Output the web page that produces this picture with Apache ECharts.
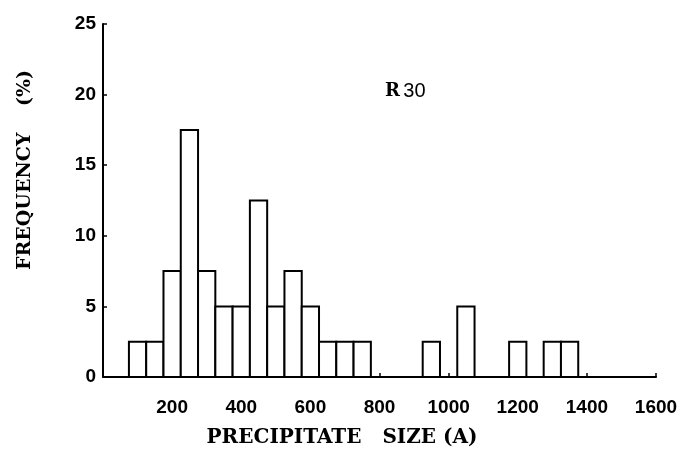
<!DOCTYPE html>
<html>
<head>
<meta charset="utf-8">
<script src="https://cdn.jsdelivr.net/npm/echarts@6/dist/echarts.min.js"></script>
<style>
  html, body { margin: 0; background: #fff; }
  #chart { width: 693px; height: 454px; }
</style>
</head>
<body>
<div id="chart"></div>
<script>
// histogram bins: centre of each 50 A wide bin, and its frequency (%)
var binCenters = [100, 150, 200, 250, 300, 350, 400, 450, 500, 550, 600, 650, 700, 750, 950, 1050, 1200, 1300, 1350];
var frequencies = [2.5, 2.5, 7.5, 17.5, 7.5, 5, 5, 12.5, 5, 7.5, 5, 2.5, 2.5, 2.5, 2.5, 5, 2.5, 2.5, 2.5];
var binWidth = 50;

var xRange = [0, 1600];
var xStep = 200;
var yRange = [0, 25];
var yStep = 5;

var chart = echarts.init(document.getElementById('chart'));

var data = binCenters.map(function (c, i) { return [c, frequencies[i]]; });

function renderBar(params, api) {
  var c = api.value(0);
  var h = api.value(1);
  var topLeft = api.coord([c - binWidth / 2, h]);
  var bottomRight = api.coord([c + binWidth / 2, 0]);
  return {
    type: 'rect',
    shape: {
      x: topLeft[0],
      y: topLeft[1],
      width: bottomRight[0] - topLeft[0],
      height: bottomRight[1] - topLeft[1]
    },
    style: { fill: '#fff', stroke: '#000', lineWidth: 2 }
  };
}

var labelFont = {
  fontFamily: 'Liberation Sans, Arial, sans-serif',
  fontWeight: 'bold',
  fontSize: 19,
  color: '#000'
};

chart.setOption({
  animation: false,
  backgroundColor: '#fff',
  grid: { left: 103, right: 37, top: 24, bottom: 77, containLabel: false, outerBoundsMode: 'none' },
  xAxis: {
    type: 'value',
    min: xRange[0],
    max: xRange[1],
    interval: xStep,
    splitLine: { show: false },
    axisLine: { lineStyle: { color: '#000', width: 2 } },
    axisTick: { inside: true, length: 4, lineStyle: { color: '#000', width: 1.5 } },
    axisLabel: Object.assign({
      margin: 21,
      formatter: function (v) { return v === 0 ? '' : String(v); }
    }, labelFont)
  },
  yAxis: {
    type: 'value',
    min: yRange[0],
    max: yRange[1],
    interval: yStep,
    splitLine: { show: false },
    axisLine: { show: true, lineStyle: { color: '#000', width: 2 } },
    axisTick: { show: true, inside: true, length: 4, lineStyle: { color: '#000', width: 1.5 } },
    axisLabel: Object.assign({ margin: 7 }, labelFont)
  },
  series: [{
    type: 'custom',
    renderItem: renderBar,
    encode: { x: 0, y: 1 },
    data: data,
    clip: false
  }],
  graphic: [
    {
      type: 'text',
      x: 25, y: 170,
      rotation: Math.PI / 2,
      style: {
        text: 'FREQUENCY    (%)',
        font: 'bold 19px "DejaVu Serif", serif',
        fill: '#000',
        align: 'center',
        verticalAlign: 'middle'
      }
    },
    {
      type: 'text',
      x: 342, y: 438,
      style: {
        text: 'PRECIPITATE   SIZE (A)',
        font: 'bold 20px "DejaVu Serif", serif',
        fill: '#000',
        align: 'center',
        verticalAlign: 'middle'
      }
    },
    {
      type: 'text',
      x: 385, y: 91,
      style: {
        text: '{r|R} {n|30}',
        verticalAlign: 'middle',
        rich: {
          r: { font: 'bold 18px "DejaVu Serif", serif', fill: '#000' },
          n: { font: '20px "Liberation Sans", Arial, sans-serif', fill: '#000' }
        }
      }
    }
  ]
});
</script>
</body>
</html>
